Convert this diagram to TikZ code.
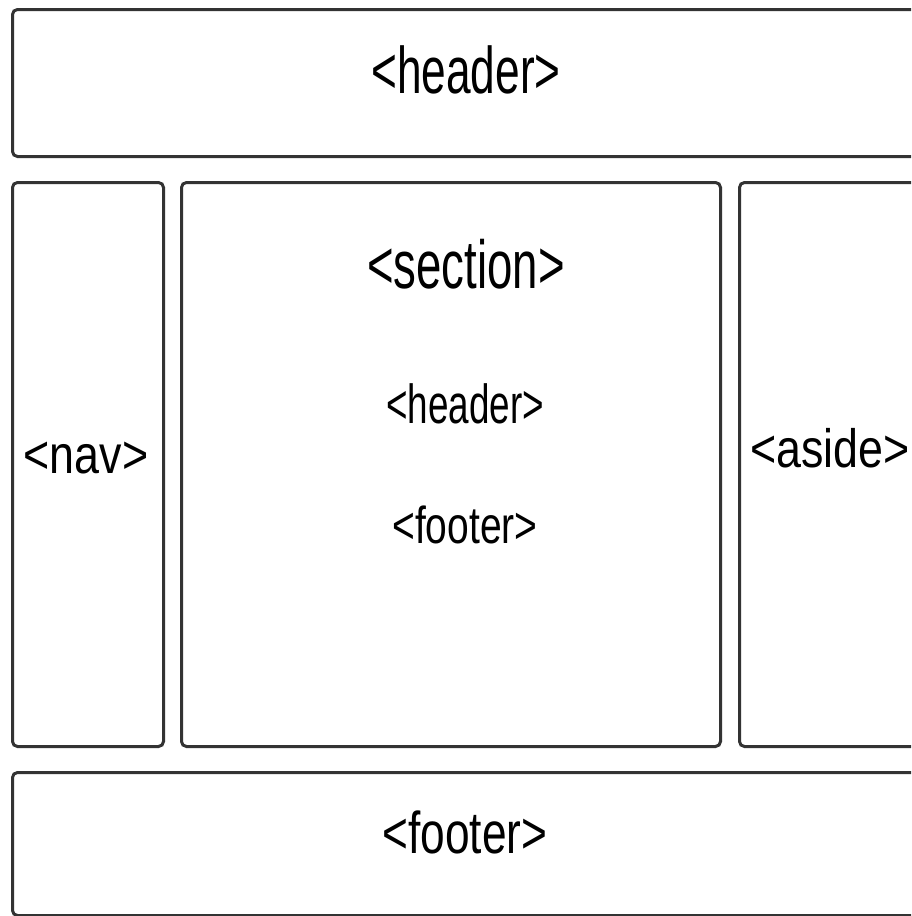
\documentclass[tikz,border=0pt]{standalone}
\usepackage{fontspec}
\newfontfamily\narrowtag[FakeStretch=0.67]{Liberation Sans}
\newfontfamily\midtag[FakeStretch=0.75]{Liberation Sans}
\newfontfamily\widetag[FakeStretch=0.83]{Liberation Sans}
\tikzset{
  box/.style={draw=black!80, line width=1.5pt, rounded corners=2.5pt, inner sep=0pt},
  narrow/.style={font=\narrowtag\fontsize{#1}{#1}\selectfont, inner sep=0pt, anchor=base},
  mid/.style={font=\midtag\fontsize{#1}{#1}\selectfont, inner sep=0pt, anchor=base},
  wide/.style={font=\widetag\fontsize{#1}{#1}\selectfont, inner sep=0pt, anchor=base}
}
\begin{document}
\begin{tikzpicture}[x=0.5pt, y=-0.5pt]
  \useasboundingbox (0, 0) rectangle (911, 916);
  \clip (0, 0) rectangle (911, 916);
  \node[box, minimum width=940*0.5pt, minimum height=147*0.5pt, anchor=north west](1) at (11, 8) {};
  \node[box, minimum width=151*0.5pt, minimum height=564*0.5pt, anchor=north west](2) at (11, 181) {};
  \node[box, minimum width=539*0.5pt, minimum height=564*0.5pt, anchor=north west](3) at (180, 181) {};
  \node[box, minimum width=200*0.5pt, minimum height=564*0.5pt, anchor=north west](4) at (738, 181) {};
  \node[box, minimum width=940*0.5pt, minimum height=143*0.5pt, anchor=north west](5) at (11, 771) {};
  \node[narrow=33](6) at (466, 93) {<header>};
  \node[wide=27](7) at (86, 473) {<nav>};
  \node[narrow=34](8) at (466, 288) {<section>};
  \node[narrow=27.5](9) at (465, 423) {<header>};
  \node[mid=26](10) at (465, 543) {<footer>};
  \node[wide=27](11) at (830, 467) {<aside>};
  \node[mid=29.5](12) at (465, 853) {<footer>};
\end{tikzpicture}
\end{document}
